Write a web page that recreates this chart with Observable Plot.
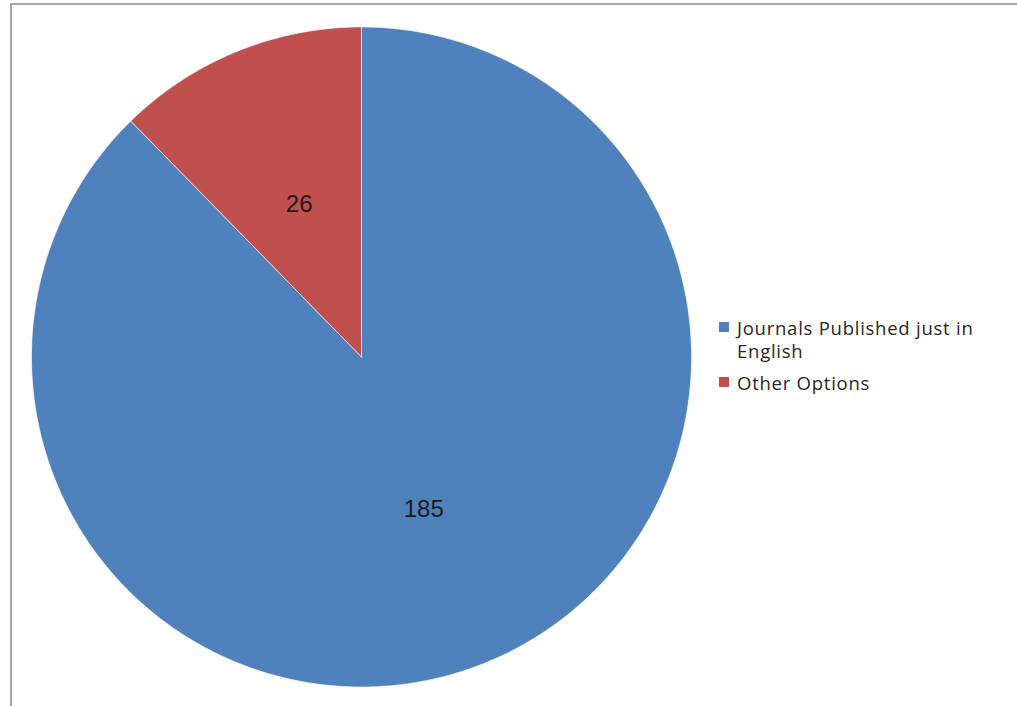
<!DOCTYPE html>
<html>
<head>
<meta charset="utf-8">
<script src="https://cdn.jsdelivr.net/npm/d3@7"></script>
<script src="https://cdn.jsdelivr.net/npm/@observablehq/plot@0.6"></script>
<style>
  html, body { margin: 0; padding: 0; background: #fff; }
  #wrap { position: relative; width: 1017px; height: 706px; overflow: hidden; }
  #border { position: absolute; left: 10px; top: 3px; width: 1100px; height: 800px;
            border-left: 2px solid #a6a6a6; border-top: 2px solid #a6a6a6; box-sizing: border-box; }
  #chart { position: absolute; left: 0; top: 0; }
  #legend { position: absolute; left: 719px; top: 316px; font-family: "Open Sans", sans-serif;
            font-size: 18.5px; letter-spacing: 0.75px; color: #262626; line-height: 23px; }
  .item { display: flex; align-items: flex-start; margin-bottom: 9px; }
  .sw { width: 10px; height: 10px; margin-top: 6px; margin-right: 8px; flex: none; }
  .lbl { width: 262px; }
</style>
</head>
<body>
<div id="wrap">
  <div id="border"></div>
  <div id="chart"></div>
  <div id="legend"></div>
</div>
<script>
const categories = ["Journals Published just in English", "Other Options"];
const counts = [185, 26];
const colors = ["#4F81BD", "#C0504D"];

const data = categories.map((name, i) => ({name, value: counts[i]}));
const arcs = d3.pie().sort(null).value(d => d.value)(data);

// polygon outline for each slice (angles clockwise from 12 o'clock)
const polys = [];
for (const a of arcs) {
  const name = a.data.name;
  polys.push({name, x: 0, y: 0});
  const n = Math.max(2, Math.ceil((a.endAngle - a.startAngle) / (Math.PI / 360)));
  for (let k = 0; k <= n; k++) {
    const t = a.startAngle + (a.endAngle - a.startAngle) * k / n;
    polys.push({name, x: Math.sin(t), y: Math.cos(t)});
  }
  polys.push({name, x: 0, y: 0});
}
const labels = arcs.map(a => {
  const m = (a.startAngle + a.endAngle) / 2;
  return {text: String(a.data.value), x: 0.5 * Math.sin(m), y: 0.5 * Math.cos(m)};
});

const plot = Plot.plot({
  width: 1017,
  height: 706,
  margin: 0,
  x: {domain: [-1, 1], range: [31, 691], axis: null},
  y: {domain: [-1, 1], range: [686.5, 26.5], axis: null},
  color: {domain: categories, range: colors},
  marks: [
    Plot.line(polys, {x: "x", y: "y", z: "name", fill: "name", stroke: "#ffffff", strokeWidth: 1, strokeOpacity: 0.6, curve: "linear"}),
    Plot.text(labels, {x: "x", y: "y", text: "text", fontSize: 24, fill: "#1c1c1c",
      fontFamily: "Liberation Sans, Arial, sans-serif"})
  ]
});
document.getElementById("chart").appendChild(plot);

const legend = document.getElementById("legend");
categories.forEach((c, i) => {
  const item = document.createElement("div");
  item.className = "item";
  const sw = document.createElement("div");
  sw.className = "sw";
  sw.style.background = colors[i];
  const lbl = document.createElement("div");
  lbl.className = "lbl";
  lbl.textContent = c;
  item.appendChild(sw);
  item.appendChild(lbl);
  legend.appendChild(item);
});
</script>
</body>
</html>
